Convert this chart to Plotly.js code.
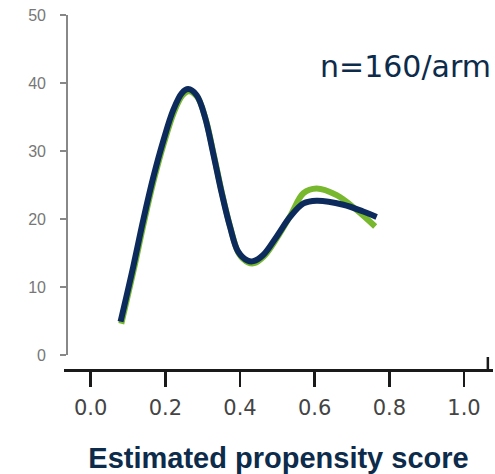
<!DOCTYPE html>
<html>
<head>
<meta charset="utf-8">
<script src="https://cdn.plot.ly/plotly-3.0.1.min.js"></script>
<style>html,body{margin:0;padding:0;background:#fff;}#chart{width:495px;height:474px;}</style>
</head>
<body>
<div id="chart"></div>
<script>
// Estimated propensity score (x) vs. density-like count (y)
const xNavy = [0.080, 0.114, 0.141, 0.168, 0.195, 0.221, 0.244, 0.261, 0.284, 0.306, 0.328, 0.351, 0.373, 0.395, 0.420, 0.436, 0.462, 0.498, 0.534, 0.570, 0.605, 0.677, 0.730, 0.766];
const yNavy = [4.9, 13.0, 19.9, 26.2, 31.6, 36.0, 38.5, 39.1, 38.2, 35.0, 29.7, 23.8, 18.9, 15.2, 13.9, 13.8, 14.7, 17.4, 20.3, 22.3, 22.7, 22.1, 21.1, 20.3];
const xGreen = [0.082, 0.116, 0.143, 0.170, 0.197, 0.223, 0.246, 0.263, 0.286, 0.308, 0.330, 0.353, 0.375, 0.397, 0.422, 0.438, 0.464, 0.500, 0.536, 0.570, 0.605, 0.659, 0.713, 0.762];
const yGreen = [4.6, 12.7, 19.6, 25.9, 31.3, 35.7, 38.2, 38.8, 37.9, 34.7, 29.4, 23.5, 18.6, 14.9, 13.6, 13.5, 14.5, 17.3, 20.6, 23.8, 24.5, 23.5, 21.3, 18.9];
const xTickVals = [0, 0.2, 0.4, 0.6, 0.8, 1.0];
const xTickText = ['0.0', '0.2', '0.4', '0.6', '0.8', '1.0'];
const yTickVals = [0, 10, 20, 30, 40, 50];
const annotationText = 'n=160/arm';
const xTitle = 'Estimated propensity score';

const traces = [
  {x: xGreen, y: yGreen, mode: 'lines', line: {color: '#77b82e', width: 6, shape: 'spline'}, hoverinfo: 'skip', showlegend: false},
  {x: xNavy, y: yNavy, mode: 'lines', line: {color: '#0d2a5c', width: 6, shape: 'spline'}, hoverinfo: 'skip', showlegend: false}
];

const layout = {
  width: 495, height: 474,
  margin: {l: 64, r: 2, t: 15, b: 104, pad: 0},
  paper_bgcolor: '#ffffff', plot_bgcolor: '#ffffff',
  showlegend: false,
  xaxis: {
    range: [-0.0715, 1.0777], anchor: 'free', position: 0,
    showline: true, linecolor: '#1a1a1a', linewidth: 2.5,
    ticks: 'outside', ticklen: 15, tickwidth: 2.5, tickcolor: '#1a1a1a',
    tickvals: xTickVals, ticktext: xTickText,
    tickfont: {family: 'DejaVu Sans', size: 21, color: '#444444'},
    ticklabelstandoff: 3,
    showgrid: false, zeroline: false,
    title: {text: xTitle, font: {family: 'Liberation Sans', size: 29, color: '#0d2b4a', weight: 'bold'}, standoff: 32},
    automargin: false
  },
  yaxis: {
    domain: [0.04225, 1], range: [0, 50], anchor: 'free', position: 0.005,
    showline: true, linecolor: '#888888', linewidth: 1.5,
    ticks: 'outside', ticklen: 6, tickwidth: 1.5, tickcolor: '#888888',
    tickvals: yTickVals,
    tickfont: {family: 'Liberation Sans', size: 16, color: '#777777'},
    ticklabelstandoff: 11,
    showgrid: false, zeroline: false, automargin: false
  },
  shapes: [
    {type: 'line', xref: 'paper', yref: 'paper', x0: 0.988, x1: 0.988, y0: 0, y1: 0.0366, line: {color: '#1a1a1a', width: 2.5}}
  ],
  annotations: [
    {text: annotationText, xref: 'paper', yref: 'paper', x: 1, y: 0.856, xanchor: 'right', yanchor: 'middle', showarrow: false,
     font: {family: 'DejaVu Sans', size: 30, color: '#0d2b4a'}}
  ]
};

Plotly.newPlot('chart', traces, layout, {displayModeBar: false, staticPlot: true});
</script>
</body>
</html>
